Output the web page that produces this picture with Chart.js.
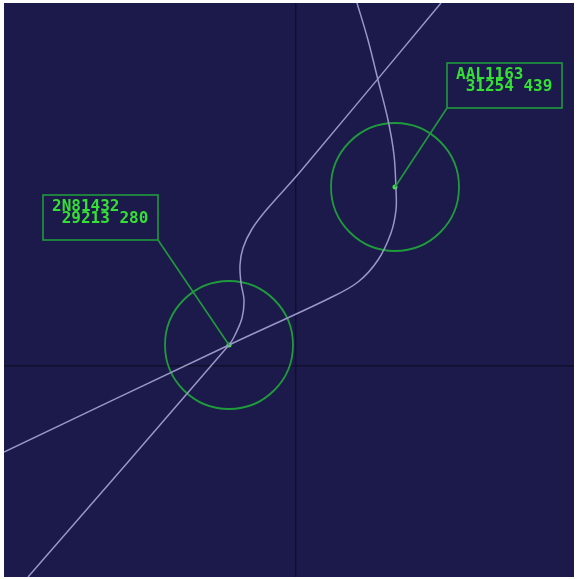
<!DOCTYPE html>
<html>
<head>
<meta charset="utf-8">
<script src="https://cdn.jsdelivr.net/npm/chart.js@4.4.1/dist/chart.umd.min.js"></script>
<style>
html, body { margin: 0; background: #fff; }
#wrap { position: absolute; left: 4px; top: 3px; width: 570px; height: 574px; background: #1b1a4a; }
</style>
</head>
<body>
<div id="wrap"><canvas id="radar"></canvas></div>
<script>
// aircraft (units: scope px, origin at the crosshair, y up)
const callsigns = ["2N81432", "AAL1163"];
const altitudes = ["29213", "31254"];
const speeds = ["280", "439"];
const aircraftX = [-67, 99];
const aircraftY = [21, 179];

// radar tracks
const trackA = [
    {x: 61, y: 363}, {x: 72, y: 326}, {x: 82, y: 286}, {x: 92, y: 246},
    {x: 98, y: 211}, {x: 100, y: 176}, {x: 100, y: 156}, {x: 95, y: 133},
    {x: 82, y: 106}, {x: 62, y: 84}, {x: 34, y: 68}, {x: -67, y: 21},
    {x: -292, y: -86}
];
const trackB = [
    {x: -268, y: -211}, {x: -67, y: 21}, {x: -61, y: 31}, {x: -54, y: 48},
    {x: -52, y: 66}, {x: -55, y: 83}, {x: -56, y: 101}, {x: -53, y: 118},
    {x: -44, y: 137}, {x: -28, y: 158}, {x: 4, y: 194}, {x: 145, y: 363}
];

const green = "#1f9a3c";
const textGreen = "#35e035";
const trackColor = "#9997c8";

// data block offset from the target, px
const blockOffsets = [{dx: -186, dy: -150}, {dx: 52, dy: -124}];

const dataBlocks = {
    id: "dataBlocks",
    afterDatasetsDraw(chart) {
        const c = chart.ctx;
        const sx = chart.scales.x, sy = chart.scales.y;
        c.save();
        for (let i = 0; i < callsigns.length; i++) {
            const px = sx.getPixelForValue(aircraftX[i]);
            const py = sy.getPixelForValue(aircraftY[i]);
            const bx = px + blockOffsets[i].dx;
            const by = py + blockOffsets[i].dy;
            const w = 115, h = 45;
            c.strokeStyle = green;
            c.lineWidth = 1.6;
            c.strokeRect(bx, by, w, h);
            c.beginPath();
            c.moveTo(blockOffsets[i].dx < 0 ? bx + w : bx, by + h);
            c.lineTo(px, py);
            c.stroke();
            c.fillStyle = textGreen;
            c.font = "bold 16px 'DejaVu Sans Mono'";
            c.textBaseline = "alphabetic";
            c.fillText(callsigns[i], bx + 9, by + 16);
            c.fillText(" " + altitudes[i] + " " + speeds[i], bx + 9, by + 28);
        }
        c.restore();
    }
};

function onlyZero(scale) {
    scale.ticks = [{value: 0}];
}

new Chart(document.getElementById("radar"), {
    type: "scatter",
    data: {
        datasets: [
            {type: "line", data: trackA, borderColor: trackColor, borderWidth: 1.5, pointRadius: 0, tension: 0.35, fill: false},
            {type: "line", data: trackB, borderColor: trackColor, borderWidth: 1.5, pointRadius: 0, tension: 0.35, fill: false},
            {
                data: aircraftX.map((x, i) => ({x: x, y: aircraftY[i]})),
                pointRadius: 64, pointBorderWidth: 1.8,
                pointBorderColor: green, pointBackgroundColor: "transparent"
            },
            {
                data: aircraftX.map((x, i) => ({x: x, y: aircraftY[i]})),
                pointRadius: 2.5, pointBorderWidth: 0,
                pointBackgroundColor: "#3ee83e"
            }
        ]
    },
    options: {
        responsive: true,
        maintainAspectRatio: false,
        animation: false,
        layout: {padding: 0, autoPadding: false},
        plugins: {legend: {display: false}, tooltip: {enabled: false}},
        scales: {
            x: {
                type: "linear", min: -292, max: 278,
                afterBuildTicks: onlyZero,
                ticks: {display: false},
                border: {display: false},
                grid: {color: "#10102e", lineWidth: 1.5, drawTicks: false}
            },
            y: {
                type: "linear", min: -211, max: 363,
                afterBuildTicks: onlyZero,
                ticks: {display: false},
                border: {display: false},
                grid: {color: "#10102e", lineWidth: 1.5, drawTicks: false}
            }
        }
    },
    plugins: [dataBlocks]
});
</script>
</body>
</html>
